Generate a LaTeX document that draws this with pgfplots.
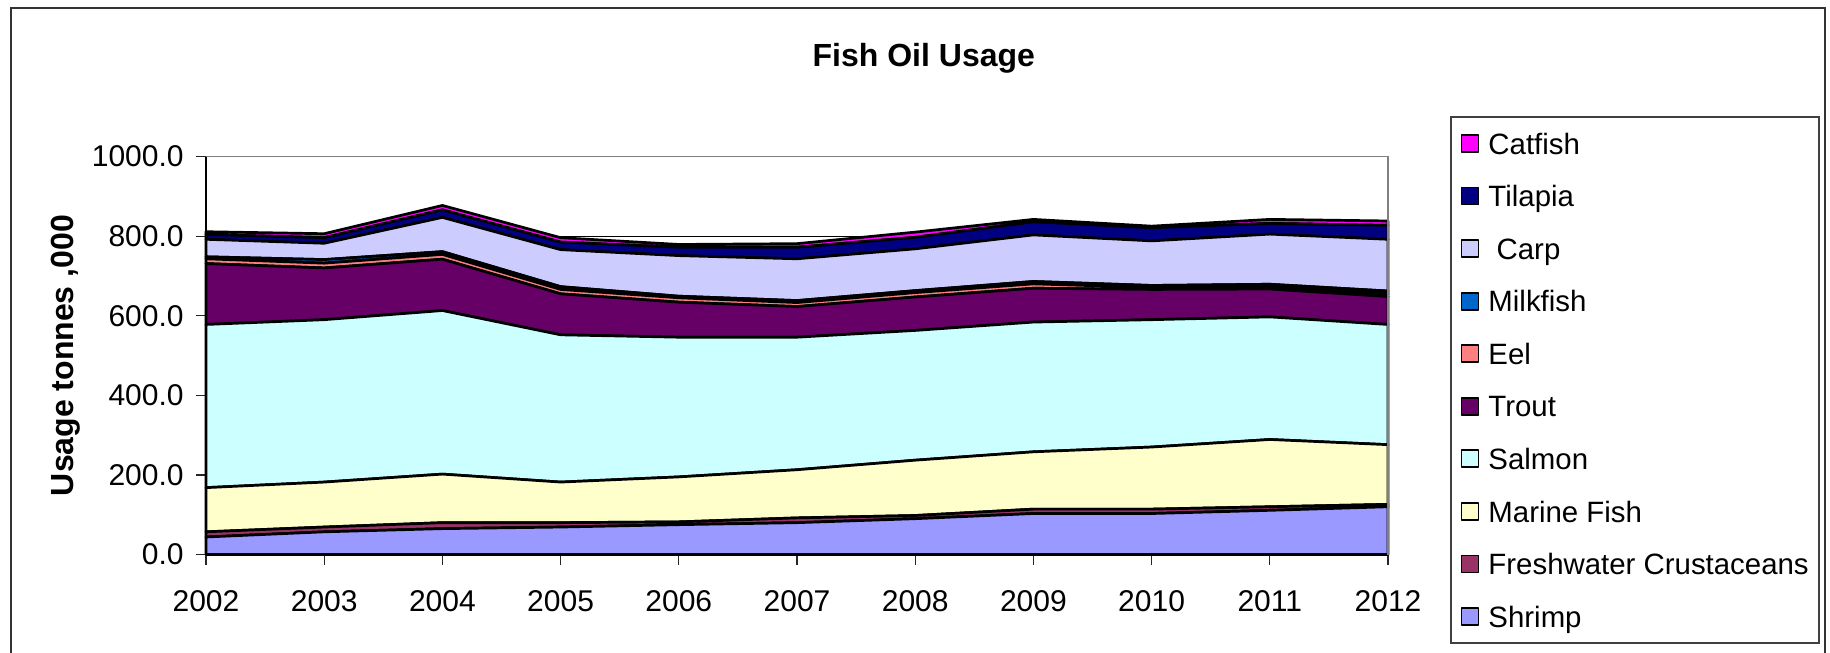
\documentclass[border=0pt]{standalone}
\usepackage{fontspec}
\setmainfont{Liberation Sans}
\usepackage{pgfplots}
\usepackage{pgfplotstable}
\pgfplotsset{compat=1.18}

% Series colours
\definecolor{cShrimp}{HTML}{9999FF}
\definecolor{cFresh}{HTML}{993366}
\definecolor{cMarine}{HTML}{FFFFCC}
\definecolor{cSalmon}{HTML}{CCFFFF}
\definecolor{cTrout}{HTML}{660066}
\definecolor{cEel}{HTML}{FF8080}
\definecolor{cMilk}{HTML}{0066CC}
\definecolor{cCarp}{HTML}{CCCCFF}
\definecolor{cTilapia}{HTML}{000080}
\definecolor{cCatfish}{HTML}{FF00FF}

% Fish oil usage by species group, tonnes ('000)
\pgfplotstableread{
year Shrimp Fresh Marine Salmon Trout Eel Milkfish Carp Tilapia Catfish
2002  44 13 111 410 153 12  5  44 12  7
2003  57 12 113 408 130 12  9  41 14 10
2004  65 15 122 411 129 12  7  86 19 11
2005  69 11 102 370 103 11  7  93 19 11
2006  75  7 113 351  88 11  4 102 21  7
2007  80 12 121 333  77 10  5 105 29  9
2008  90  8 139 326  84 11  5 105 29 13
2009 103 11 144 326  85 11  6 117 33  6
2010 103 11 156 320  76  5  5 112 33  4
2011 111  9 169 308  70  6  6 126 27 10
2012 120  6 150 302  70  7  7 130 35 11
}\usage

\begin{document}
\begin{tikzpicture}
% outer chart frame
\draw[black!80, line width=1pt] (5.5pt,-340pt) -- (5.5pt,-4pt) -- (912.5pt,-4pt) -- (912.5pt,-340pt);

% title and y axis title
\node[anchor=base, font=\bfseries\fontsize{16}{19}\selectfont] at (461.9pt,-33.4pt) {Fish Oil Usage};
\node[rotate=90, anchor=base, font=\bfseries\fontsize{16}{19}\selectfont] at (36.5pt,-177.75pt) {Usage tonnes ,000};

\begin{axis}[
  at={(103pt,-277.25pt)}, anchor=south west,
  width=591pt, height=199pt, scale only axis,
  xmin=2002, xmax=2012, ymin=0, ymax=1000,
  enlargelimits=false, clip=false,
  stack plots=y,
  axis x line*=bottom, axis y line*=left,
  axis line style={black, line width=1pt},
  xtick={2002,2003,2004,2005,2006,2007,2008,2009,2010,2011,2012},
  xticklabels={2002,2003,2004,2005,2006,2007,2008,2009,2010,2011,2012},
  ytick={0,200,400,600,800,1000},
  yticklabels={0.0,200.0,400.0,600.0,800.0,1000.0},
  tick label style={font=\fontsize{15}{18}\selectfont},
  yticklabel style={anchor=east, inner sep=0pt, xshift=-6pt},
  xticklabel style={anchor=north, inner sep=0pt, yshift=-12.75pt},
  tick align=outside, major tick length=5pt,
  tick style={black!85, line width=0.6pt},
  ymajorgrids, grid style={black, line width=0.5pt},
  legend style={at={(1.0525,1.1018)}, anchor=north west,
    draw=black!75, line width=0.8pt,
    inner xsep=5pt, inner ysep=0.3pt, row sep=0pt, column sep=4.5pt,
    font=\fontsize{14.7}{17}\selectfont,
    nodes={inner sep=0pt, text height=18.5pt, text depth=7.76pt}},
  legend cell align=left, reverse legend,
  legend image code/.code={\draw[#1, draw=black, line width=0.8pt] (0pt,-4.25pt) rectangle (8.5pt,4.25pt);},
  every axis plot/.append style={draw=black, line width=1.35pt, line join=round},
]
\draw[gray, line width=0.8pt] (rel axis cs:0,1) -- (rel axis cs:1,1) -- (rel axis cs:1,0);

\addplot[fill=cShrimp]  table[x=year, y=Shrimp]   {\usage} \closedcycle;
\addlegendentry{Shrimp}
\addplot[fill=cFresh]   table[x=year, y=Fresh]    {\usage} \closedcycle;
\addlegendentry{Freshwater Crustaceans}
\addplot[fill=cMarine]  table[x=year, y=Marine]   {\usage} \closedcycle;
\addlegendentry{Marine Fish}
\addplot[fill=cSalmon]  table[x=year, y=Salmon]   {\usage} \closedcycle;
\addlegendentry{Salmon}
\addplot[fill=cTrout]   table[x=year, y=Trout]    {\usage} \closedcycle;
\addlegendentry{Trout}
\addplot[fill=cEel]     table[x=year, y=Eel]      {\usage} \closedcycle;
\addlegendentry{Eel}
\addplot[fill=cMilk]    table[x=year, y=Milkfish] {\usage} \closedcycle;
\addlegendentry{Milkfish}
\addplot[fill=cCarp]    table[x=year, y=Carp]     {\usage} \closedcycle;
\addlegendentry{\ Carp}
\addplot[fill=cTilapia] table[x=year, y=Tilapia]  {\usage} \closedcycle;
\addlegendentry{Tilapia}
\addplot[fill=cCatfish] table[x=year, y=Catfish]  {\usage} \closedcycle;
\addlegendentry{Catfish}
\end{axis}
\pgfresetboundingbox
\path[use as bounding box] (0pt,0pt) rectangle (915pt,-326.2pt);
\end{tikzpicture}
\end{document}
